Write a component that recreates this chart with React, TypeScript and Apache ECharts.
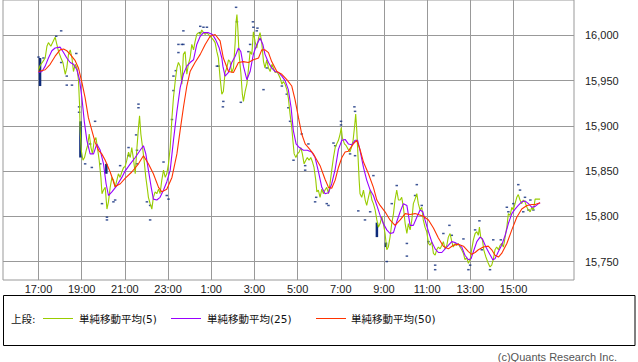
import React, { useEffect, useRef } from "react";
import * as echarts from "echarts";

// hours counted from 17:00 (day 1)
const xTickHours = [0, 2, 4, 6, 8, 10, 12, 14, 16, 18, 20, 22];
const yTicks = [15750, 15800, 15850, 15900, 15950, 16000];

const ma5: number[][] = [
  [0.00,15962],[0.08,15967],[0.20,15971],[0.31,15975],[0.39,15988],[0.46,15992],[0.57,15988],[0.67,15993],[0.77,15998],[0.85,15990],
  [0.93,15982],[1.04,15975],[1.13,15970],[1.24,15957],[1.31,15964],[1.39,15979],[1.47,15984],[1.55,15975],[1.62,15960],[1.70,15968],
  [1.78,15964],[1.85,15951],[1.90,15924],[1.93,15895],[1.98,15873],[2.06,15862],[2.13,15865],[2.21,15873],[2.27,15878],[2.35,15891],
  [2.43,15876],[2.50,15869],[2.58,15884],[2.66,15887],[2.73,15876],[2.81,15862],[2.89,15843],[2.94,15825],[3.01,15829],[3.09,15832],
  [3.17,15808],[3.24,15816],[3.32,15832],[3.40,15843],[3.47,15840],[3.55,15832],[3.63,15840],[3.70,15847],[3.78,15843],[3.86,15849],
  [3.94,15854],[4.01,15855],[4.09,15862],[4.17,15871],[4.25,15865],[4.32,15876],[4.40,15863],[4.48,15847],[4.56,15876],[4.63,15898],
  [4.68,15911],[4.74,15891],[4.81,15878],[4.89,15862],[4.97,15843],[5.05,15829],[5.09,15821],[5.17,15814],[5.25,15808],[5.32,15821],
  [5.40,15827],[5.48,15825],[5.56,15830],[5.63,15825],[5.71,15840],[5.79,15851],[5.87,15843],[5.94,15847],[6.02,15858],[6.10,15876],
  [6.18,15909],[6.25,15931],[6.33,15949],[6.41,15964],[6.48,15970],[6.56,15966],[6.64,15946],[6.71,15979],[6.79,15982],[6.87,15957],
  [6.94,15968],[7.02,15975],[7.10,15990],[7.18,15984],[7.25,15993],[7.33,16001],[7.41,16003],[7.49,16001],[7.56,16006],[7.64,16003],
  [7.72,16001],[7.80,16003],[7.87,16001],[7.95,15999],[8.03,15997],[8.10,15995],[8.18,15992],[8.26,15982],[8.33,15975],[8.41,15953],
  [8.49,15935],[8.56,15938],[8.64,15959],[8.72,15964],[8.80,15973],[8.87,15971],[8.95,15959],[9.03,15964],[9.11,15993],[9.15,16015],
  [9.19,16023],[9.23,16008],[9.29,15979],[9.37,15959],[9.44,15935],[9.49,15927],[9.57,15938],[9.65,15946],[9.72,15962],[9.80,15982],
  [9.88,15979],[9.95,16004],[10.03,15993],[10.11,15986],[10.19,15997],[10.26,16003],[10.34,15992],[10.42,15971],[10.49,15964],[10.57,15973],
  [10.65,15964],[10.73,15960],[10.81,15968],[10.88,15964],[10.96,15959],[11.04,15960],[11.11,15957],[11.19,15953],[11.27,15946],[11.34,15949],
  [11.42,15946],[11.50,15940],[11.57,15931],[11.65,15913],[11.73,15898],[11.78,15884],[11.84,15869],[11.92,15865],[11.99,15869],[12.07,15871],
  [12.15,15876],[12.22,15869],[12.30,15858],[12.38,15862],[12.45,15865],[12.53,15862],[12.61,15865],[12.69,15860],[12.76,15854],[12.84,15840],
  [12.89,15827],[12.96,15829],[13.04,15821],[13.12,15830],[13.19,15825],[13.27,15829],[13.35,15832],[13.43,15825],[13.50,15836],[13.58,15851],
  [13.66,15865],[13.74,15876],[13.81,15880],[13.89,15884],[13.97,15891],[14.02,15898],[14.07,15887],[14.17,15880],[14.25,15878],[14.34,15874],
  [14.42,15871],[14.49,15876],[14.57,15884],[14.65,15902],[14.69,15913],[14.74,15895],[14.80,15865],[14.85,15840],[14.89,15825],[14.97,15821],
  [15.05,15829],[15.13,15818],[15.20,15812],[15.28,15821],[15.36,15829],[15.44,15818],[15.51,15814],[15.59,15807],[15.67,15796],[15.74,15788],
  [15.82,15792],[15.90,15800],[15.97,15792],[16.05,15781],[16.13,15763],[16.20,15766],[16.28,15777],[16.36,15792],[16.44,15803],[16.51,15818],
  [16.59,15829],[16.67,15818],[16.75,15818],[16.82,15821],[16.90,15810],[16.98,15792],[17.06,15781],[17.13,15792],[17.21,15785],[17.29,15796],
  [17.36,15814],[17.44,15819],[17.52,15825],[17.59,15814],[17.67,15807],[17.75,15810],[17.82,15796],[17.90,15788],[17.98,15783],[18.06,15770],
  [18.13,15768],[18.21,15772],[18.29,15759],[18.37,15757],[18.44,15763],[18.52,15766],[18.60,15764],[18.68,15768],[18.75,15772],[18.83,15764],
  [18.91,15768],[18.98,15777],[19.06,15781],[19.14,15772],[19.21,15766],[19.29,15770],[19.37,15768],[19.44,15770],[19.52,15766],[19.60,15763],
  [19.68,15759],[19.75,15752],[19.83,15754],[19.91,15748],[19.99,15752],[20.06,15763],[20.14,15774],[20.22,15781],[20.30,15783],[20.37,15779],
  [20.42,15788],[20.48,15777],[20.56,15774],[20.62,15763],[20.72,15755],[20.83,15748],[20.91,15744],[20.99,15746],[21.06,15752],[21.14,15763],
  [21.22,15766],[21.30,15763],[21.38,15768],[21.45,15770],[21.53,15766],[21.61,15777],[21.69,15788],[21.76,15803],[21.84,15801],[21.92,15810],
  [21.99,15807],[22.07,15814],[22.15,15821],[22.22,15824],[22.30,15818],[22.38,15814],[22.45,15818],[22.53,15816],[22.62,15810],[22.69,15807],
  [22.77,15805],[22.85,15810],[22.92,15807],[23.00,15819],[23.23,15819],
];

const ma25: number[][] = [
  [0.00,15959],[0.16,15960],[0.31,15966],[0.46,15975],[0.62,15983],[0.77,15986],[1.00,15987],[1.16,15981],[1.31,15975],[1.47,15970],
  [1.62,15968],[1.78,15962],[1.90,15951],[2.01,15931],[2.12,15905],[2.24,15884],[2.39,15869],[2.55,15869],[2.70,15880],[2.86,15873],
  [3.01,15858],[3.13,15836],[3.24,15823],[3.40,15827],[3.63,15834],[3.86,15843],[4.01,15850],[4.25,15858],[4.48,15865],[4.71,15873],
  [4.86,15878],[4.97,15869],[5.09,15851],[5.22,15832],[5.32,15819],[5.48,15818],[5.63,15821],[5.79,15829],[5.94,15838],[6.10,15851],
  [6.25,15884],[6.41,15916],[6.56,15942],[6.71,15957],[6.87,15966],[7.02,15970],[7.18,15973],[7.33,15990],[7.49,15999],[7.64,16003],
  [7.87,16003],[8.06,16001],[8.21,15995],[8.37,15986],[8.49,15975],[8.54,15966],[8.64,15955],[8.80,15959],[8.95,15970],[9.11,15977],
  [9.26,15986],[9.37,15982],[9.49,15966],[9.65,15951],[9.80,15960],[9.95,15979],[10.11,15990],[10.26,15997],[10.39,15990],[10.49,15979],
  [10.65,15970],[10.80,15964],[10.96,15960],[11.11,15959],[11.27,15955],[11.42,15950],[11.57,15940],[11.70,15920],[11.80,15895],[11.93,15880],
  [12.08,15876],[12.27,15873],[12.45,15873],[12.65,15871],[12.81,15865],[12.96,15850],[13.12,15832],[13.27,15825],[13.43,15826],[13.58,15836],
  [13.74,15852],[13.89,15874],[14.05,15884],[14.20,15885],[14.35,15880],[14.51,15879],[14.66,15884],[14.78,15884],[14.89,15873],[15.05,15854],
  [15.20,15840],[15.36,15829],[15.51,15823],[15.67,15812],[15.82,15801],[15.97,15792],[16.13,15785],[16.28,15781],[16.44,15782],[16.59,15794],
  [16.75,15805],[16.90,15814],[17.06,15812],[17.21,15790],[17.36,15790],[17.52,15799],[17.67,15807],[17.80,15805],[17.90,15796],[18.06,15783],
  [18.21,15772],[18.37,15764],[18.52,15760],[18.68,15760],[18.83,15764],[18.98,15768],[19.14,15772],[19.29,15771],[19.44,15769],[19.60,15766],
  [19.75,15757],[19.91,15752],[20.03,15753],[20.17,15763],[20.30,15772],[20.45,15777],[20.56,15775],[20.72,15766],[20.88,15759],[21.04,15752],
  [21.14,15753],[21.30,15761],[21.45,15768],[21.61,15779],[21.76,15792],[21.92,15803],[22.07,15808],[22.22,15812],[22.38,15816],[22.53,15817],
  [22.69,15814],[22.85,15810],[23.00,15811],[23.16,15814],[23.23,15815],
];

const ma50: number[][] = [
  [0.00,15960],[0.31,15962],[0.54,15968],[0.77,15977],[1.00,15984],[1.16,15985],[1.31,15983],[1.47,15979],[1.70,15972],[1.85,15964],
  [2.01,15948],[2.16,15931],[2.31,15909],[2.47,15895],[2.62,15882],[2.78,15873],[2.93,15869],[3.09,15862],[3.32,15849],[3.55,15833],
  [3.79,15836],[4.01,15842],[4.32,15849],[4.63,15858],[4.86,15867],[5.09,15858],[5.32,15847],[5.56,15832],[5.71,15827],[5.94,15830],
  [6.18,15843],[6.41,15869],[6.56,15895],[6.71,15920],[6.87,15944],[7.02,15960],[7.25,15970],[7.49,15979],[7.72,15990],[7.95,15999],
  [8.18,16001],[8.41,15994],[8.56,15975],[8.80,15960],[9.03,15959],[9.26,15970],[9.49,15971],[9.72,15970],[9.95,15973],[10.19,15975],
  [10.34,15984],[10.49,15984],[10.65,15981],[10.80,15971],[11.04,15960],[11.27,15957],[11.50,15951],[11.73,15944],[11.88,15929],[12.04,15909],
  [12.19,15891],[12.35,15880],[12.50,15876],[12.73,15869],[12.85,15864],[13.04,15856],[13.27,15841],[13.43,15832],[13.58,15831],[13.74,15840],
  [13.89,15854],[14.05,15865],[14.20,15871],[14.35,15872],[14.58,15880],[14.74,15884],[14.89,15874],[15.05,15860],[15.28,15847],[15.51,15832],
  [15.67,15818],[15.82,15812],[16.05,15805],[16.28,15796],[16.51,15790],[16.75,15796],[16.98,15803],[17.21,15802],[17.44,15803],[17.82,15800],
  [18.06,15796],[18.29,15787],[18.52,15776],[18.75,15767],[18.98,15764],[19.21,15768],[19.44,15769],[19.68,15767],[19.91,15761],[20.06,15758],
  [20.22,15760],[20.37,15763],[20.60,15766],[20.83,15767],[20.99,15763],[21.14,15757],[21.30,15755],[21.45,15759],[21.69,15770],[21.92,15785],
  [22.15,15799],[22.38,15808],[22.62,15812],[22.85,15813],[23.00,15813],[23.23,15815],
];

const priceDots: number[][] = [
  [1.05,16005],[0.82,15999],[0.23,15975],[0.00,15976],[1.05,15970],[1.75,15980],[1.31,15955],[1.31,15945],[1.55,15945],[1.88,15921],
  [1.88,15915],[2.62,15905],[2.39,15880],[2.16,15858],[2.47,15854],[2.86,15858],[2.94,15814],[3.17,15799],[3.17,15796],[3.47,15816],
  [3.55,15818],[3.78,15856],[4.17,15876],[4.17,15867],[4.56,15873],[4.56,15858],[4.63,15924],[4.63,15920],[4.52,15890],[5.02,15816],
  [5.17,15796],[5.17,15812],[5.79,15860],[5.94,15823],[6.02,15819],[6.18,15907],[6.25,15939],[6.36,15961],[6.25,15955],[6.48,15990],
  [6.48,15981],[6.71,16005],[6.71,15990],[6.64,15990],[7.49,16003],[7.49,16010],[7.64,16009],[7.80,16009],[8.26,15966],[8.33,15966],
  [8.56,15927],[8.54,15921],[9.15,16031],[9.19,16015],[9.37,15926],[9.72,15982],[9.80,15990],[9.93,16015],[9.95,16009],[10.11,16005],
  [10.14,16008],[10.42,15940],[10.57,15964],[11.27,15944],[11.50,15935],[11.57,15920],[11.65,15905],[12.19,15891],[12.50,15880],[11.81,15862],
  [12.35,15856],[12.35,15851],[12.86,15821],[12.81,15816],[13.35,15814],[13.43,15812],[13.66,15881],[13.74,15878],[14.01,15905],[14.01,15901],
  [14.43,15869],[14.66,15867],[14.63,15921],[14.66,15916],[14.81,15806],[15.12,15796],[15.51,15845],[15.36,15805],[16.13,15750],[16.59,15834],
  [16.36,15814],[17.06,15756],[17.06,15770],[17.52,15835],[17.75,15812],[17.44,15823],[18.06,15772],[18.37,15741],[18.37,15746],[18.75,15781],
  [19.03,15790],[19.14,15779],[19.68,15775],[19.91,15741],[19.99,15746],[20.22,15785],[20.42,15795],[20.53,15763],[20.91,15741],[21.06,15774],
  [21.41,15774],[21.76,15805],[21.69,15810],[22.22,15835],[22.30,15829],[22.53,15821],[22.69,15807],[22.92,15807],[21.99,15814],[22.45,15805],
  [22.78,15818],
];

// [hour, low, high]
const priceBars: number[][] = [
  [0.06, 15944, 15975],
  [1.93, 15865, 15905],
  [3.13, 15847, 15858],
  [15.66, 15777, 15793],
  [16.08, 15766, 15771],
];

const seriesNames = ["単純移動平均(5)", "単純移動平均(25)", "単純移動平均(50)"];
const seriesColors = ["#99cc00", "#9900ff", "#ff3300"];

const LAT = "'Liberation Sans', Arial, sans-serif";
const JP = "'DejaVu Sans', 'Noto Sans CJK JP', sans-serif";

export default function App() {
  const ref = useRef<HTMLDivElement>(null);
  useEffect(() => {
    if (!ref.current) return;
    const chart = echarts.init(ref.current, null, { renderer: "svg" });
    const navy = "#0d2a7a";
    const lineSeries = [ma5, ma25, ma50].map((d, i) => ({
      type: "line",
      name: seriesNames[i],
      data: d,
      showSymbol: false,
      symbol: "none",
      smooth: false,
      z: 3 + i,
      lineStyle: { color: seriesColors[i], width: 1.1 },
      itemStyle: { color: seriesColors[i] },
    }));
    const legendY = 318.5;
    const legendItems = [
      { x1: 43, x2: 73, tx: 79 },
      { x1: 171, x2: 201, tx: 207 },
      { x1: 316, x2: 346, tx: 351 },
    ];
    const graphic: any[] = [
      {
        type: "rect",
        shape: { x: 3.5, y: 295.5, width: 631.5, height: 50 },
        style: { fill: "#fff", stroke: "#000", lineWidth: 1 },
        z: 10,
      },
      {
        type: "text",
        x: 11,
        y: legendY,
        style: { text: "上段:", fontSize: 10.5, fontFamily: JP, fill: "#111", verticalAlign: "middle", align: "left" },
        z: 11,
      },
      {
        type: "text",
        x: 617,
        y: 357,
        style: { text: "(c)Quants Research Inc.", fontSize: 11, fontFamily: LAT, fill: "#555", verticalAlign: "middle", align: "right" },
        z: 11,
      },
    ];
    legendItems.forEach((it, i) => {
      graphic.push({
        type: "line",
        shape: { x1: it.x1, y1: legendY, x2: it.x2, y2: legendY },
        style: { stroke: seriesColors[i], lineWidth: 1 },
        z: 11,
      });
      graphic.push({
        type: "text",
        x: it.tx,
        y: legendY,
        style: { text: seriesNames[i], fontSize: 10.5, fontFamily: JP, fill: "#111", verticalAlign: "middle", align: "left" },
        z: 11,
      });
    });

    chart.setOption({
      animation: false,
      grid: {
        left: 3,
        right: 64,
        top: -1,
        bottom: 82,
        show: true,
        borderColor: "#999",
        borderWidth: 1,
        backgroundColor: "transparent",
      },
      xAxis: {
        type: "value",
        min: -1.644,
        max: 24.8,
        axisLine: { show: false },
        axisTick: { show: false, customValues: xTickHours },
        axisLabel: {
          customValues: xTickHours,
          formatter: (h: number) => `${(17 + Math.round(h)) % 24}:00`,
          fontFamily: LAT,
          fontSize: 11,
          color: "#222",
          margin: 3,
        },
        splitLine: { show: true, lineStyle: { color: "#999", width: 1 } },
      },
      yAxis: {
        type: "value",
        position: "right",
        min: 15729.6,
        max: 16039.1,
        axisLine: { show: false },
        axisTick: { show: true, length: 3, customValues: yTicks, lineStyle: { color: "#999" } },
        axisLabel: {
          customValues: yTicks,
          formatter: (v: number) => v.toLocaleString("en-US"),
          fontFamily: LAT,
          fontSize: 11,
          color: "#222",
          margin: 11,
        },
        splitLine: { show: true, lineStyle: { color: "#999", width: 1 } },
      },
      graphic,
      series: [
        {
          type: "scatter",
          data: priceDots,
          symbol: "rect",
          symbolSize: [2.5, 1.5],
          itemStyle: { color: navy },
          z: 2,
          silent: true,
        },
        ...lineSeries.slice(0, 1),
        {
          type: "custom",
          data: priceBars,
          z: 3,
          silent: true,
          renderItem: (params: any, api: any) => {
            const top = api.coord([api.value(0), api.value(2)]);
            const bot = api.coord([api.value(0), api.value(1)]);
            return {
              type: "rect",
              shape: { x: top[0] - 1, y: top[1], width: 2.5, height: bot[1] - top[1] },
              style: { fill: navy },
            };
          },
        },
        ...lineSeries.slice(1),
      ],
    });
    return () => chart.dispose();
  }, []);
  return (
    <div
      ref={ref}
      style={{ position: "fixed", left: 0, top: 0, width: 638, height: 362, background: "#fff" }}
    />
  );
}
